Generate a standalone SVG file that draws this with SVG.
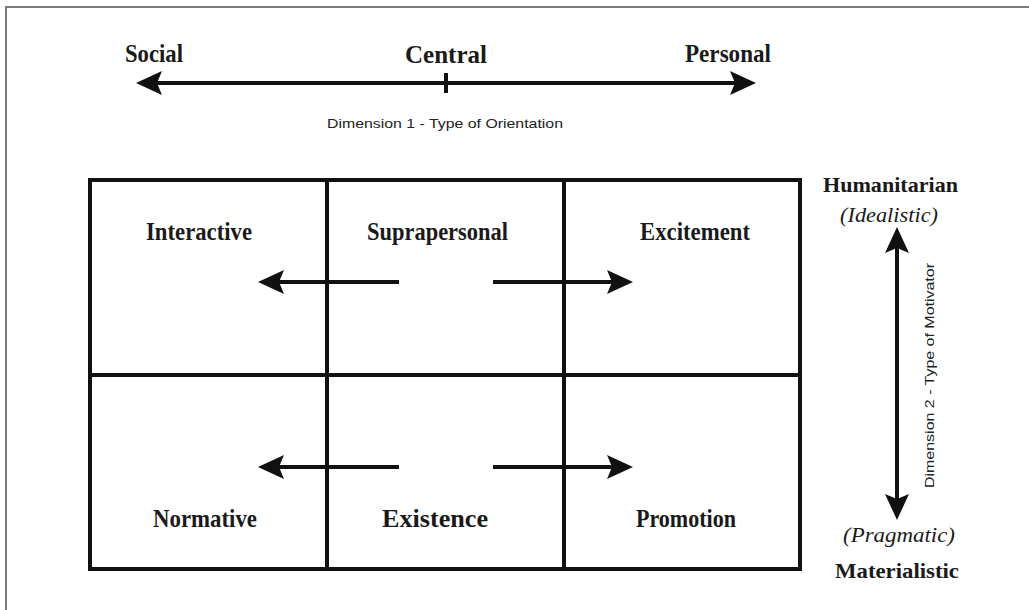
<svg xmlns="http://www.w3.org/2000/svg" width="1029" height="610" viewBox="0 0 1029 610">
  <style>
    .frame { fill: none; stroke: #7a7a7a; stroke-width: 2; }
    .grid { fill: none; stroke: #111; stroke-width: 4; }
    .axis { fill: none; stroke: #111; stroke-width: 4; }
    .head { fill: #111; }
    .lbl { font-family: "Liberation Serif", "Times New Roman", serif; font-weight: bold; font-size: 26px; fill: #1a1a1a; }
    .pole { font-family: "Liberation Serif", "Times New Roman", serif; font-weight: bold; font-size: 22px; fill: #1a1a1a; }
    .poleit { font-family: "Liberation Serif", "Times New Roman", serif; font-style: italic; font-size: 22px; fill: #1a1a1a; }
    .dim { font-family: "Liberation Sans", Arial, sans-serif; font-size: 13px; fill: #222; }
  </style>
  <defs>
    <marker id="arrow" markerUnits="userSpaceOnUse" markerWidth="30" markerHeight="26" refX="16" refY="12" orient="auto-start-reverse">
      <path class="head" d="M0,0 L26,12 L0,24 L5,12 Z"/>
    </marker>
  </defs>

  <rect width="1029" height="610" fill="#fff"/>
  <!-- outer page frame (top and left edges) -->
  <path class="frame" d="M6,610 V7 H1029"/>

  <!-- Dimension 1 axis -->
  <g id="axis-orientation">
    <line class="axis" x1="146" y1="83" x2="746" y2="83" marker-start="url(#arrow)" marker-end="url(#arrow)"/>
    <line class="axis" x1="446" y1="73" x2="446" y2="93" stroke-width="3"/>
    <text class="lbl" x="125" y="62" textLength="58" lengthAdjust="spacingAndGlyphs">Social</text>
    <text class="lbl" x="405" y="63" textLength="82" lengthAdjust="spacingAndGlyphs">Central</text>
    <text class="lbl" x="685" y="62" textLength="86" lengthAdjust="spacingAndGlyphs">Personal</text>
    <text class="dim" x="327" y="128" textLength="236" lengthAdjust="spacingAndGlyphs">Dimension 1 - Type of Orientation</text>
  </g>

  <!-- Dimension 2 axis -->
  <g id="axis-motivator">
    <line class="axis" x1="897" y1="237" x2="897" y2="510" marker-start="url(#arrow)" marker-end="url(#arrow)"/>
    <text class="pole" x="823" y="192" textLength="135" lengthAdjust="spacingAndGlyphs">Humanitarian</text>
    <text class="poleit" x="840" y="222" textLength="98" lengthAdjust="spacingAndGlyphs">(Idealistic)</text>
    <text class="poleit" x="843" y="542" textLength="112" lengthAdjust="spacingAndGlyphs">(Pragmatic)</text>
    <text class="pole" x="835" y="578" textLength="124" lengthAdjust="spacingAndGlyphs">Materialistic</text>
    <text class="dim" transform="translate(934,488) rotate(-90)" x="0" y="0" textLength="225" lengthAdjust="spacingAndGlyphs">Dimension 2 - Type of Motivator</text>
  </g>

  <!-- 3 x 2 grid of values -->
  <g id="grid">
    <rect class="grid" x="90" y="180" width="710" height="389"/>
    <line class="grid" x1="327" y1="180" x2="327" y2="569"/>
    <line class="grid" x1="564" y1="180" x2="564" y2="569"/>
    <line class="grid" x1="90" y1="375" x2="800" y2="375"/>
  </g>

  <g id="cell-interactive"><text class="lbl" x="146" y="240" textLength="106" lengthAdjust="spacingAndGlyphs">Interactive</text></g>
  <g id="cell-suprapersonal"><text class="lbl" x="367" y="240" textLength="141" lengthAdjust="spacingAndGlyphs">Suprapersonal</text></g>
  <g id="cell-excitement"><text class="lbl" x="640" y="240" textLength="110" lengthAdjust="spacingAndGlyphs">Excitement</text></g>
  <g id="cell-normative"><text class="lbl" x="153" y="527" textLength="104" lengthAdjust="spacingAndGlyphs">Normative</text></g>
  <g id="cell-existence"><text class="lbl" x="382" y="527" textLength="106" lengthAdjust="spacingAndGlyphs">Existence</text></g>
  <g id="cell-promotion"><text class="lbl" x="636" y="527" textLength="100" lengthAdjust="spacingAndGlyphs">Promotion</text></g>

  <!-- arrows spreading from the central column -->
  <g id="connectors">
    <line class="axis" x1="399" y1="282" x2="268" y2="282" marker-end="url(#arrow)"/>
    <line class="axis" x1="493" y1="282" x2="623" y2="282" marker-end="url(#arrow)"/>
    <line class="axis" x1="399" y1="467" x2="268" y2="467" marker-end="url(#arrow)"/>
    <line class="axis" x1="493" y1="467" x2="623" y2="467" marker-end="url(#arrow)"/>
  </g>
</svg>
